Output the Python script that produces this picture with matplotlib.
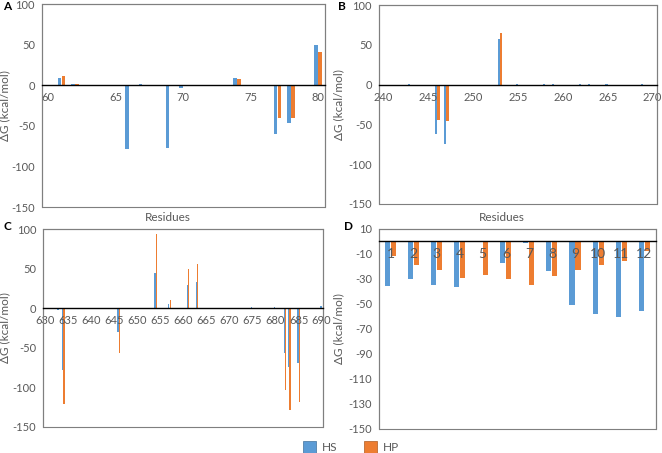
import matplotlib.pyplot as plt
import numpy as np
from matplotlib.patches import Rectangle

plt.rcParams['font.family'] = ['Lato', 'DejaVu Sans']
plt.rcParams['axes.unicode_minus'] = False

# %% data (kcal/mol)
res_a = [61, 62, 66, 67, 69, 70, 74, 77, 78, 79, 80]
hs_a = [9, 1, -79, 1, -77, -3, 9.5, -60, -47, -1, 50]
hp_a = [11, 1, 0, 0, 0, 0, 7.5, -40, -40, 0, 41]

res_b = [242, 243, 246, 247, 252, 253, 255, 257, 258, 259, 260, 261, 262, 263, 265, 269]
hs_b = [-0.5, 0.5, -62, -75, 0, 57, 0.5, -0.5, 0.8, 0.5, -0.8, -1, 0.5, 1, 0.8, 0.5]
hp_b = [0, 0, -45, -46, -1, 65, 0, 0, 0, 0, 0, 0, 0, 0, 0, 0]

res_c = [632, 633, 634, 639, 640, 646, 653, 654, 657, 661, 663, 675, 680, 682, 683, 685, 686, 690]
hs_c = [-1, -2, -78, -1, -1, -30, -0.5, 45, 5, 29, 33, 1, 1, -57, -74, -69, -1, 3]
hp_c = [0, 0, -121, 0, 0, -56, 0, 94, 10.5, 50, 56, 0, 0, -103, -129, -118, 0, 0]

groups_d = list(range(1, 13))
hs_d = [-36, -30, -34.5, -36.7, 0, -17.5, -1, -23.5, -51, -57.7, -60.7, -55.3]
hp_d = [-11.6, -19, -22.8, -28.9, -26.5, -30.3, -34.5, -27.6, -22.5, -18.5, -15.9, -7.9]

blue = '#5B9BD5'
orange = '#ED7D31'
grey = '#595959'


# %%
def style_axis(ax, xlim, xticks, ylim, yticks, xfs=8):
    ax.set_xlim(*xlim)
    ax.set_ylim(*ylim)
    ax.set_xticks(xticks)
    ax.set_yticks(yticks)
    for s in ['top', 'left', 'right']:
        ax.spines[s].set_color('#7F7F7F')
        ax.spines[s].set_linewidth(0.8)
    ax.spines['bottom'].set_position(('data', 0))
    ax.spines['bottom'].set_color('black')
    ax.spines['bottom'].set_linewidth(1.0)
    ax.add_patch(Rectangle((0, 0), 1, 1, transform=ax.transAxes, fill=False,
                           ec='#7F7F7F', lw=0.8, clip_on=False))
    ax.tick_params(axis='x', length=0, pad=5, labelsize=xfs, colors=grey)
    ax.tick_params(axis='y', length=0, pad=5, labelsize=8, colors=grey)
    ax.set_ylabel('ΔG (kcal/mol)', fontsize=8.5, color=grey)


def plot_pair(ax, x, hs, hp, w, off):
    x = np.asarray(x, dtype=float)
    ax.bar(x - off, hs, width=w, color=blue, lw=0)
    ax.bar(x + off, hp, width=w, color=orange, lw=0)


fig = plt.figure(figsize=(6.62, 4.53), dpi=100)

ax_a = fig.add_axes([0.0634, 0.543, 0.4275, 0.448])
ax_b = fig.add_axes([0.5725, 0.5497, 0.42, 0.439])
ax_c = fig.add_axes([0.065, 0.0574, 0.423, 0.437])
ax_d = fig.add_axes([0.5725, 0.053, 0.418, 0.4415])

plot_pair(ax_a, res_a, hs_a, hp_a, 0.26, 0.15)
style_axis(ax_a, (59.55, 80.5), range(60, 81, 5), (-150, 100), range(-150, 101, 50))
ax_a.yaxis.set_label_coords(-0.113, 0.5)

plot_pair(ax_b, res_b, hs_b, hp_b, 0.24, 0.13)
style_axis(ax_b, (239.5, 270.5), range(240, 271, 5), (-150, 100), range(-150, 101, 50))
ax_b.yaxis.set_label_coords(-0.126, 0.5)

plot_pair(ax_c, res_c, hs_c, hp_c, 0.25, 0.14)
style_axis(ax_c, (629.6, 690.3), range(630, 691, 5), (-150, 100), range(-150, 101, 50))
ax_c.yaxis.set_label_coords(-0.118, 0.5)

plot_pair(ax_d, groups_d, hs_d, hp_d, 0.22, 0.13)
style_axis(ax_d, (0.5, 12.5), groups_d, (-150, 10), range(-150, 11, 20), xfs=10)
ax_d.yaxis.set_label_coords(-0.126, 0.5)

for ax, x, y in [(ax_a, 0.445, -0.054), (ax_b, 0.442, -0.07)]:
    ax.text(x, y, 'Residues', transform=ax.transAxes, ha='center', va='center',
            fontsize=8.5, color=grey)

for lab, x, y in [('A', 0.004, 0.997), ('B', 0.511, 0.997),
                  ('C', 0.006, 0.513), ('D', 0.52, 0.513)]:
    fig.text(x, y, lab, fontsize=8.5, fontweight='bold', va='top', ha='left')

handles = [Rectangle((0, 0), 1, 1, fc=blue, ec='#41719C', lw=0.5),
           Rectangle((0, 0), 1, 1, fc=orange, ec='#AE5A21', lw=0.5)]
fig.legend(handles, ['HS', 'HP'], loc='center', bbox_to_anchor=(0.53, 0.013),
           ncol=2, frameon=False, fontsize=8.5, handlelength=1.1, handleheight=1.1,
           columnspacing=2.3, handletextpad=0.5, labelcolor=grey)

fig.savefig('out.png', dpi=100)
